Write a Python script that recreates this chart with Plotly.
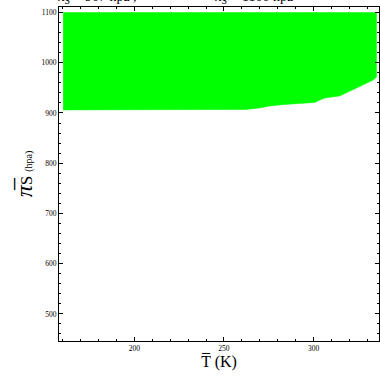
import plotly.graph_objects as go

# Boundary of the green region (temperature in K, lower pressure bound in hPa)
T_vals = [160.3, 180, 200, 220, 240, 262.3, 270, 275.7, 284, 292.4, 300.7, 303, 306.3, 314.6, 317, 320.2, 325.8, 329.5, 333, 335.1]
P_low = [906, 906, 906, 906, 907, 907, 910, 914, 917, 919, 921, 925, 930, 934, 938, 944, 952, 959, 965, 971]
P_top = 1100

x_ticks = [200, 250, 300]
y_ticks = [500, 600, 700, 800, 900, 1000, 1100]

xs = T_vals + [T_vals[-1], T_vals[0]]
ys = P_low + [P_top, P_top]

fig = go.Figure()
fig.add_trace(go.Scatter(
    x=xs, y=ys, mode="lines", fill="toself",
    fillcolor="#00ff00", line=dict(color="#00ff00", width=0.5),
    hoverinfo="skip", showlegend=False,
))

axis_common = dict(
    showgrid=False, zeroline=False, showline=True, linecolor="black", linewidth=1,
    mirror="ticks", ticks="inside", ticklen=4, tickcolor="black", tickwidth=1,
    tickfont=dict(family="Liberation Serif", size=7.5, color="black"),
)

fig.update_xaxes(
    range=[158, 336.5], tickvals=x_ticks,
    minor=dict(dtick=10, ticklen=2, ticks="inside", tickcolor="black"),
    title=dict(text="T\u0305 (K)", font=dict(family="Liberation Serif", size=16, color="black"), standoff=2),
    **axis_common,
)
fig.update_yaxes(
    range=[446, 1111], tickvals=y_ticks,
    minor=dict(dtick=20, ticklen=2, ticks="inside", tickcolor="black"),
    title=dict(
        text="<span style='font-size:24px'><i>\u03c0\u0305</i></span><span style='font-size:17px'>S</span> <span style='font-size:10px'>(hpa)</span>",
        font=dict(family="Liberation Serif", size=16, color="black"), standoff=4),
    **axis_common,
)

fig.add_annotation(
    x=-0.06, y=0.998, xref="paper", yref="paper", xanchor="left", yanchor="bottom",
    text="<span style='color:#f5a040'>\u25cf</span>  \u03c0\u0305<sub>S</sub> = 907 hpa ,",
    showarrow=False, font=dict(family="Liberation Serif", size=14, color="black"),
)
fig.add_annotation(
    x=0.43, y=0.998, xref="paper", yref="paper", xanchor="left", yanchor="bottom",
    text="<span style='color:#7070f0'>\u25cf</span>  \u03c0\u0305<sub>S</sub> = 1100 hpa",
    showarrow=False, font=dict(family="Liberation Serif", size=14, color="black"),
)

fig.update_layout(
    width=380, height=378,
    margin=dict(l=59, r=1, t=7, b=37),
    paper_bgcolor="white", plot_bgcolor="white",
)

fig.write_html("out.html", config={"displayModeBar": False},
               post_script="document.body.style.margin='0';document.body.style.overflow='hidden';")
